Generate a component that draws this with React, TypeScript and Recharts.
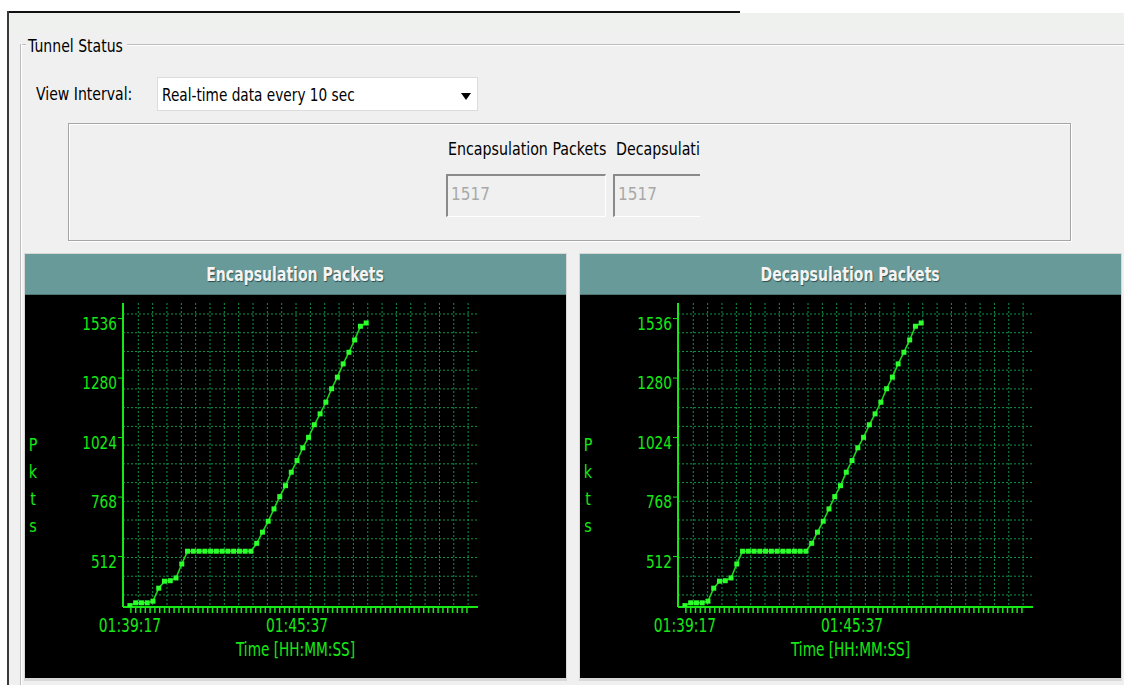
import React from 'react';
import { LineChart, Line, XAxis, YAxis, CartesianGrid } from 'recharts';

// packet counters, one sample per refresh
const encapPkts = [
  301, 313, 313, 313, 320, 376, 406, 408, 420, 480, 535,
  535, 535, 535, 535, 535, 535, 535, 535, 535, 535, 535,
  569, 617, 664, 717, 770, 817, 875, 925, 980, 1025, 1079,
  1126, 1176, 1234, 1284, 1341, 1391, 1444, 1503, 1517,
];
const decapPkts = [
  301, 313, 313, 313, 320, 376, 406, 408, 420, 480, 535,
  535, 535, 535, 535, 535, 535, 535, 535, 535, 535, 535,
  569, 617, 664, 717, 770, 817, 875, 925, 980, 1025, 1079,
  1126, 1176, 1234, 1284, 1341, 1391, 1444, 1503, 1517,
];

const yTicks = [512, 768, 1024, 1280, 1536];
const yDomain = [295, 1603];
const xTickIdx = [0, 29];
const xTickLabels = ['01:39:17', '01:45:37'];
const xDomain = [-1.2, 60.4];

// small tick marks along the time axis (sample-index units)
const minorTickIdx = Array.from({ length: 71 }, (_, k) => 0.17 + k * 0.833);
const gridCols = 24;
const gridRows = 16;

const FONT = "'DejaVu Sans', sans-serif";
const GREEN = '#16e816';
const GRID = '#0e9447';

const SquareDot = (props: any) => {
  const { cx, cy, index } = props;
  if (cx == null || cy == null) return null;
  return <rect key={index} x={cx - 2.5} y={cy - 2.5} width={5} height={5} fill="#2cff2c" />;
};

const NarrowText = ({ x, y, sx, size, anchor, children }: any) => (
  <text
    transform={`translate(${x},${y}) scale(${sx},1)`}
    textAnchor={anchor}
    dominantBaseline="middle"
    fill={GREEN}
    fontSize={size}
    fontFamily={FONT}
  >
    {children}
  </text>
);

const YTick = (props: any) => {
  const { x, y, payload } = props;
  return (
    <NarrowText x={x} y={y + 6} sx={0.76} size={18} anchor="end">
      {payload.value}
    </NarrowText>
  );
};

const XTick = (props: any) => {
  const { x, y, payload } = props;
  const pos = xTickIdx.indexOf(payload.value);
  if (pos >= 0) {
    return (
      <NarrowText x={x} y={y + 20} sx={0.73} size={19} anchor="middle">
        {xTickLabels[pos]}
      </NarrowText>
    );
  }
  return <line x1={x} y1={y} x2={x} y2={y + 6} stroke={GREEN} strokeWidth={1.5} />;
};

const TimeLabel = (props: any) => {
  const { x, y, width } = props.viewBox;
  return (
    <NarrowText x={x + width / 2 - 5} y={y + 44} sx={0.72} size={19} anchor="middle">
      Time [HH:MM:SS]
    </NarrowText>
  );
};

const PktsLabel = (props: any) => {
  const { x, y, height } = props.viewBox;
  const letters = ['P', 'k', 't', 's'];
  return (
    <g>
      {letters.map((ch, k) => (
        <NarrowText key={ch} x={x + 8} y={y + height / 2 - 9 + k * 27} sx={0.8} size={18} anchor="middle">
          {ch}
        </NarrowText>
      ))}
    </g>
  );
};

const PacketChart = ({ values }: { values: number[] }) => {
  const data = values.map((v, i) => ({ i, pkts: v }));
  return (
    <LineChart width={541} height={383} data={data} margin={{ top: 8, right: 88, bottom: 0, left: 0 }}>
      <CartesianGrid
        stroke={GRID}
        strokeDasharray="2 2"
        verticalCoordinatesGenerator={({ offset }: any) =>
          Array.from({ length: gridCols }, (_, k) => offset.left + 15.3 + k * 14.34)
        }
        horizontalCoordinatesGenerator={({ offset }: any) =>
          Array.from({ length: gridRows }, (_, k) => offset.top + 11 + k * 18.73)
        }
      />
      <XAxis
        dataKey="i"
        type="number"
        domain={xDomain}
        ticks={[...minorTickIdx, ...xTickIdx]}
        interval={0}
        height={71}
        axisLine={{ stroke: GREEN, strokeWidth: 2 }}
        tickLine={false}
        tickSize={0}
        tickMargin={0}
        tick={<XTick />}
        label={<TimeLabel />}
        allowDataOverflow
      />
      <YAxis
        type="number"
        domain={yDomain}
        ticks={yTicks}
        width={98}
        axisLine={{ stroke: GREEN, strokeWidth: 2 }}
        tickLine={{ stroke: GREEN }}
        tickSize={5}
        tickMargin={1}
        tick={<YTick />}
        label={<PktsLabel />}
        allowDataOverflow
      />
      <Line
        dataKey="pkts"
        stroke="#1bd81b"
        strokeWidth={1.6}
        dot={<SquareDot />}
        isAnimationActive={false}
      />
    </LineChart>
  );
};

const Txt = ({ children, sx = 0.78, origin = 'left center' }: any) => (
  <span style={{ display: 'inline-block', transform: `scaleX(${sx})`, transformOrigin: origin, whiteSpace: 'nowrap' }}>
    {children}
  </span>
);

const ChartPanel = ({ title, values, left }: { title: string; values: number[]; left: number }) => (
  <div style={{ position: 'absolute', left, top: 253, width: 543, height: 428, background: '#d8d8d8' }}>
    <div
      style={{
        position: 'absolute', left: 1, top: 1, width: 541, height: 41, background: '#699a9a',
        color: '#f4f4f4', fontWeight: 'bold', fontSize: 19, lineHeight: '41px', textAlign: 'center',
        textShadow: '1px 1px 1px #2d4d4d', borderBottom: '1px solid #4f7575', boxSizing: 'border-box',
      }}
    >
      <Txt sx={0.74} origin="center center">{title}</Txt>
    </div>
    <div style={{ position: 'absolute', left: 1, top: 42, width: 541, height: 383, background: '#000' }}>
      <PacketChart values={values} />
    </div>
  </div>
);

const App: React.FC = () => {
  return (
    <div
      style={{
        position: 'absolute', left: 0, top: 0, width: 1124, height: 685, overflow: 'hidden',
        background: '#fff', fontFamily: FONT, color: '#000', fontSize: 18,
      }}
    >
      {/* window body */}
      <div style={{ position: 'absolute', left: 9, top: 13, width: 1115, height: 672, background: '#f0f0f0' }} />
      <div style={{ position: 'absolute', left: 9, top: 13, width: 1115, height: 20, background: '#eef1ee' }} />
      <div style={{ position: 'absolute', left: 7, top: 11, width: 733, height: 2, background: '#111' }} />
      <div style={{ position: 'absolute', left: 7, top: 11, width: 2, height: 674, background: '#3a3a3a' }} />

      {/* group box */}
      <div style={{ position: 'absolute', left: 20, top: 44, width: 1104, height: 1, background: '#bdbdbd', borderBottom: '1px solid #fff' }} />
      <div style={{ position: 'absolute', left: 20, top: 44, width: 1, height: 641, background: '#bdbdbd', borderRight: '1px solid #fff' }} />
      <div style={{ position: 'absolute', left: 26, top: 35, padding: '0 2px', width: 97, background: '#f0f0f0', lineHeight: '22px' }}>
        <Txt>Tunnel Status</Txt>
      </div>

      <div style={{ position: 'absolute', left: 36, top: 83, lineHeight: '22px' }}>
        <Txt>View Interval:</Txt>
      </div>
      <div
        style={{
          position: 'absolute', left: 157, top: 77, width: 321, height: 34, boxSizing: 'border-box',
          background: '#fff', border: '1px solid #dcdcdc',
        }}
      >
        <div style={{ position: 'absolute', left: 4, top: 6, lineHeight: '22px' }}>
          <Txt sx={0.76}>Real-time data every 10 sec</Txt>
        </div>
        <div
          style={{
            position: 'absolute', left: 303, top: 15, width: 0, height: 0,
            borderLeft: '5px solid transparent', borderRight: '5px solid transparent', borderTop: '7px solid #000',
          }}
        />
      </div>

      {/* counters */}
      <div
        style={{
          position: 'absolute', left: 68, top: 123, width: 1003, height: 118, boxSizing: 'border-box',
          border: '1px solid #a6a6a6', boxShadow: 'inset 1px 1px 0 #fff, 1px 1px 0 #fff',
        }}
      />
      <div style={{ position: 'absolute', left: 448, top: 138, lineHeight: '22px' }}>
        <Txt sx={0.79}>Encapsulation Packets</Txt>
      </div>
      <div
        style={{
          position: 'absolute', left: 446, top: 174, width: 160, height: 43, boxSizing: 'border-box',
          borderTop: '2px solid #8a8a8a', borderLeft: '2px solid #8a8a8a', borderRight: '1px solid #fff', borderBottom: '1px solid #fff',
          color: '#a8a8a8', lineHeight: '36px', paddingLeft: 3,
        }}
      >
        <Txt sx={0.85}>1517</Txt>
      </div>
      <div style={{ position: 'absolute', left: 613, top: 130, width: 87, height: 90, overflow: 'hidden' }}>
        <div style={{ position: 'absolute', left: 3, top: 8, lineHeight: '22px' }}>
          <Txt sx={0.79}>Decapsulation Packets</Txt>
        </div>
        <div
          style={{
            position: 'absolute', left: 0, top: 44, width: 160, height: 43, boxSizing: 'border-box',
            borderTop: '2px solid #8a8a8a', borderLeft: '2px solid #8a8a8a', borderBottom: '1px solid #fff',
            color: '#a8a8a8', lineHeight: '36px', paddingLeft: 3,
          }}
        >
          <Txt sx={0.85}>1517</Txt>
        </div>
      </div>

      <ChartPanel title="Encapsulation Packets" values={encapPkts} left={24} />
      <ChartPanel title="Decapsulation Packets" values={decapPkts} left={579} />
    </div>
  );
};

export default App;
